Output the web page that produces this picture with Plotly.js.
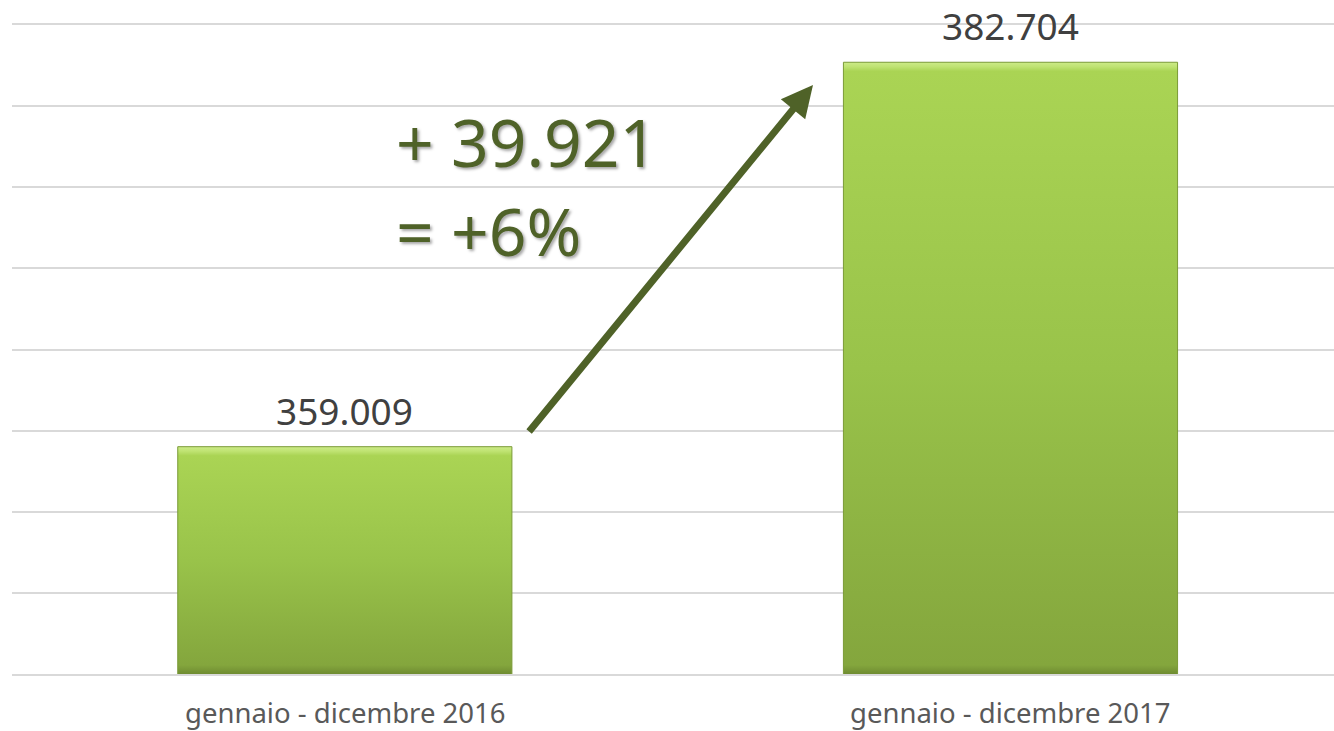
<!DOCTYPE html>
<html>
<head>
<meta charset="utf-8">
<script src="https://cdn.plot.ly/plotly-3.0.1.min.js"></script>
<style>
html,body{margin:0;padding:0;background:#fff;}
#chart{width:1334px;height:731px;}
</style>
</head>
<body>
<div id="chart"></div>
<script>
const categories = ["gennaio - dicembre 2016", "gennaio - dicembre 2017"];
const values = [359009, 382704];
const diffLabel = "+ 39.921";
const pctLabel = "= +6%";

const fmt = v => Math.round(v).toString().replace(/\B(?=(\d{3})+(?!\d))/g, ".");

const trace = {
  type: "bar",
  x: [0, 1],
  y: values,
  width: 0.502,
  marker: {color: "#94bb47", line: {color: "#7a9a36", width: 1}},
  hoverinfo: "none"
};

const green = "#4f6228";
const annotations = values.map((v, i) => ({
  x: i, y: v, xref: "x", yref: "y",
  text: fmt(v), showarrow: false,
  yanchor: "bottom", yshift: 9,
  font: {family: "Noto Sans", size: 37, color: "#404040"}
}));
categories.forEach((c, i) => annotations.push({
  x: i, y: 0, xref: "x", yref: "paper",
  text: c, showarrow: false,
  yanchor: "top", yshift: -18,
  font: {family: "Noto Sans", size: 27.5, color: "#595959"}
}));
annotations.push({
  x: 0.0736, y: 377851, xref: "x", yref: "y", xanchor: "left", yanchor: "middle",
  text: diffLabel, showarrow: false,
  font: {family: "Noto Sans", size: 66, color: green, shadow: "2px 2px 3px rgba(0,0,0,0.35)"}
});
annotations.push({
  x: 0.0736, y: 372365, xref: "x", yref: "y", xanchor: "left", yanchor: "middle",
  text: pctLabel, showarrow: false,
  font: {family: "Noto Sans", size: 66, color: green, shadow: "2px 2px 3px rgba(0,0,0,0.35)"}
});
annotations.push({
  x: 0.7033, y: 381304, xref: "x", yref: "y",
  ax: 0.2750, ay: 359850, axref: "x", ayref: "y",
  text: "", showarrow: true, arrowhead: 2, arrowsize: 0.9, arrowwidth: 7,
  arrowcolor: green, standoff: 0, startstandoff: 0
});

const layout = {
  width: 1334, height: 731,
  margin: {l: 12, r: 0, t: 25, b: 57},
  paper_bgcolor: "#ffffff", plot_bgcolor: "#ffffff",
  showlegend: false,
  separators: ",.",
  xaxis: {
    range: [-0.5, 1.486],
    tickvals: [0, 1], showticklabels: false,
    showgrid: false, zeroline: false,
    showline: true, mirror: true, linecolor: "#d9d9d9", linewidth: 2,
    ticks: "",
    fixedrange: true
  },
  yaxis: {
    range: [345000, 385000], dtick: 5000, tick0: 345000,
    showgrid: true, gridcolor: "#d9d9d9", gridwidth: 2,
    zeroline: false, showline: false, showticklabels: false, ticks: "",
    fixedrange: true
  },
  annotations: annotations
};

Plotly.newPlot("chart", [trace], layout, {displayModeBar: false, staticPlot: true}).then(gd => {
  const svg = gd.querySelector("svg.main-svg");
  const ns = "http://www.w3.org/2000/svg";
  let defs = svg.querySelector("defs");
  if (!defs) { defs = document.createElementNS(ns, "defs"); svg.insertBefore(defs, svg.firstChild); }
  const plotH = gd._fullLayout._size.h;
  gd.querySelectorAll(".trace.bars .point path").forEach((p, k) => {
    const bb = p.getBBox();
    const top = bb.y;
    const h = plotH - top;
    const lg = document.createElementNS(ns, "linearGradient");
    lg.setAttribute("id", "barGrad" + k);
    lg.setAttribute("gradientUnits", "userSpaceOnUse");
    lg.setAttribute("x1", bb.x); lg.setAttribute("y1", top);
    lg.setAttribute("x2", bb.x); lg.setAttribute("y2", plotH);
    const bev = 9 / h;
    [[0, "#cdeb88"], [bev * 0.5, "#bfe372"], [bev, "#aad454"], [0.5, "#99c34a"], [1 - bev, "#84a63d"], [1, "#6f8c31"]].forEach(s => {
      const st = document.createElementNS(ns, "stop");
      st.setAttribute("offset", String(s[0])); st.setAttribute("stop-color", s[1]);
      lg.appendChild(st);
    });
    defs.appendChild(lg);
    p.style.fill = "url(#barGrad" + k + ")";
  });
});
</script>
</body>
</html>
